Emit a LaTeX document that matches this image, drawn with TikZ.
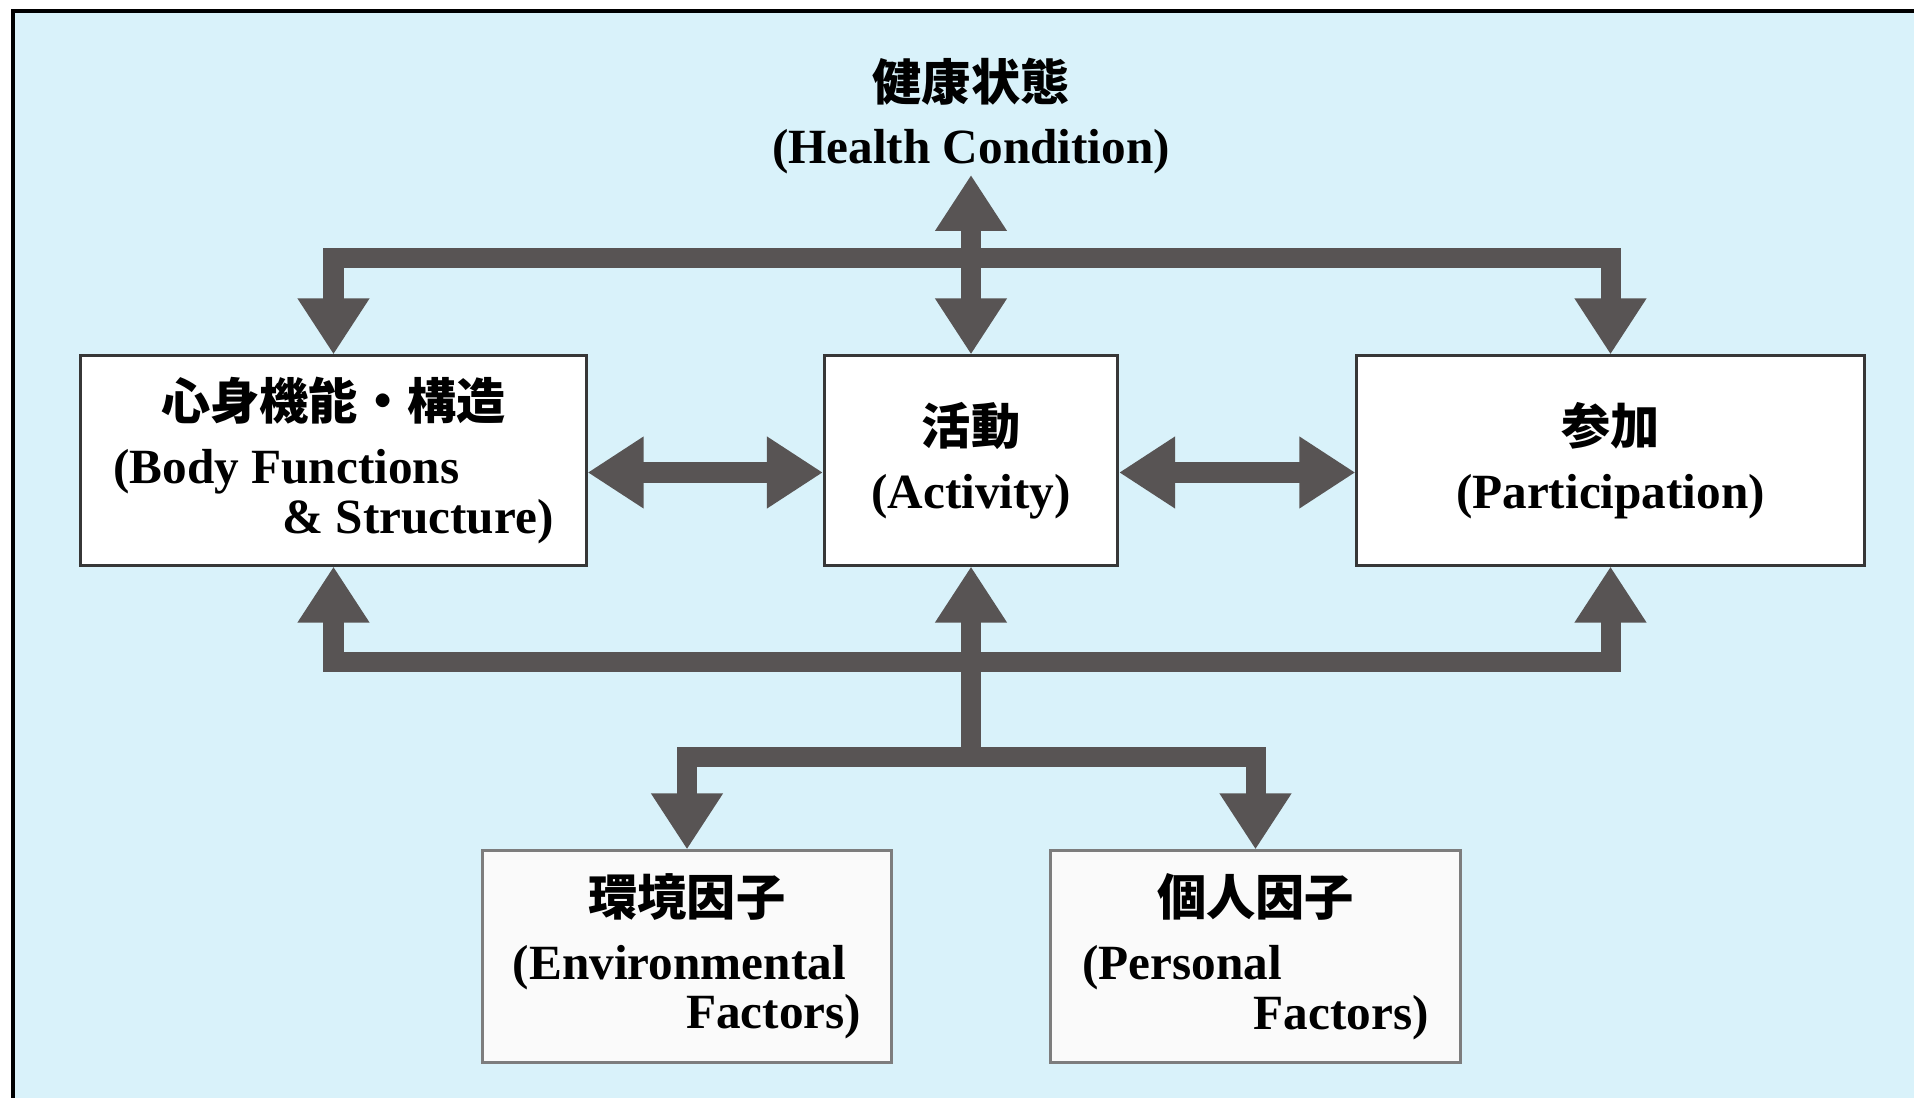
\documentclass[tikz,border=0pt]{standalone}
\usepackage{fontspec}
\setmainfont{Liberation Serif}
\newfontfamily\cjk{Noto Sans CJK JP}
\usepackage{tikz}
\usetikzlibrary{arrows.meta}

\definecolor{bgblue}{RGB}{217,242,250}
\definecolor{arrgray}{RGB}{88,84,84}
\definecolor{boxline}{RGB}{55,55,55}
\definecolor{lowline}{RGB}{125,125,125}

\begin{document}
\begin{tikzpicture}[
  x=0.01cm, y=-0.01cm,
  lbl/.style={font=\fontsize{14}{14.2}\selectfont\bfseries, inner sep=0pt, align=center},
  box/.style={lbl, draw=boxline, line width=0.03cm, fill=white,
              minimum height=2.09cm},
  lowbox/.style={box, draw=lowline, fill=white!96!gray, minimum height=2.11cm},
  bigarr/.style={draw=arrgray, line width=0.2cm, line join=miter,
                 {Triangle[length=0.56cm,width=0.68cm]}-{Triangle[length=0.56cm,width=0.68cm]}},
  uparr/.style={bigarr, -{Triangle[length=0.56cm,width=0.68cm]}},
]
  \useasboundingbox (0,0) rectangle (1914,1098);

  % Background and frame
  \fill[white] (0,0) rectangle (1914,1098);
  \fill[bgblue] (13,12) rectangle (1914,1098);
  \draw[black, line width=0.04cm] (13,1098) -- (13,11) -- (1914,11);

  % Health condition on top
  \node[lbl] (hc) at (971,116)
    {{\cjk 健康状態}\\[3.9pt] (Health Condition)};

  % Middle row
  \node[box, minimum width=5.05cm] (body) at (333.5,460.5)
    {{\cjk 心身機能・構造}\\[3.9pt]
     \makebox[4.4cm][l]{(Body Functions}\\
     \makebox[4.4cm][r]{\& Structure)}};
  \node[box, minimum width=2.93cm] (act) at (971,460.5)
    {{\cjk 活動}\\[3.9pt] (Activity)};
  \node[box, minimum width=5.07cm] (part) at (1610.5,460.5)
    {{\cjk 参加}\\[3.9pt] (Participation)};

  % Bottom row
  \node[lowbox, minimum width=4.08cm] (env) at (687,956.5)
    {{\cjk 環境因子}\\[3.9pt]
     \makebox[3.48cm][l]{(Environmental}\\
     \makebox[3.48cm][r]{Factors)}};
  \node[lowbox, minimum width=4.09cm] (pers) at (1255.5,956.5)
    {{\cjk 個人因子}\\[3.9pt]
     \makebox[3.46cm][l]{(Personal}\\
     \makebox[3.46cm][r]{Factors)}};

  % Junctions of the bars
  \coordinate (topj) at (971,258);
  \coordinate (botj) at (971,662);
  \coordinate (lowj) at (971,757);

  % Connectors
  \draw[bigarr] (body.north) |- (topj) -| (part.north);
  \draw[bigarr] (hc.south) -- (act.north);
  \draw[bigarr] ([yshift=-0.12cm]body.east) -- ([yshift=-0.12cm]act.west);
  \draw[bigarr] ([yshift=-0.12cm]act.east) -- ([yshift=-0.12cm]part.west);
  \draw[bigarr] (body.south) |- (botj) -| (part.south);
  \draw[uparr] (lowj) -- (act.south);
  \draw[bigarr] (env.north) |- (lowj) -| (pers.north);
\end{tikzpicture}
\end{document}
